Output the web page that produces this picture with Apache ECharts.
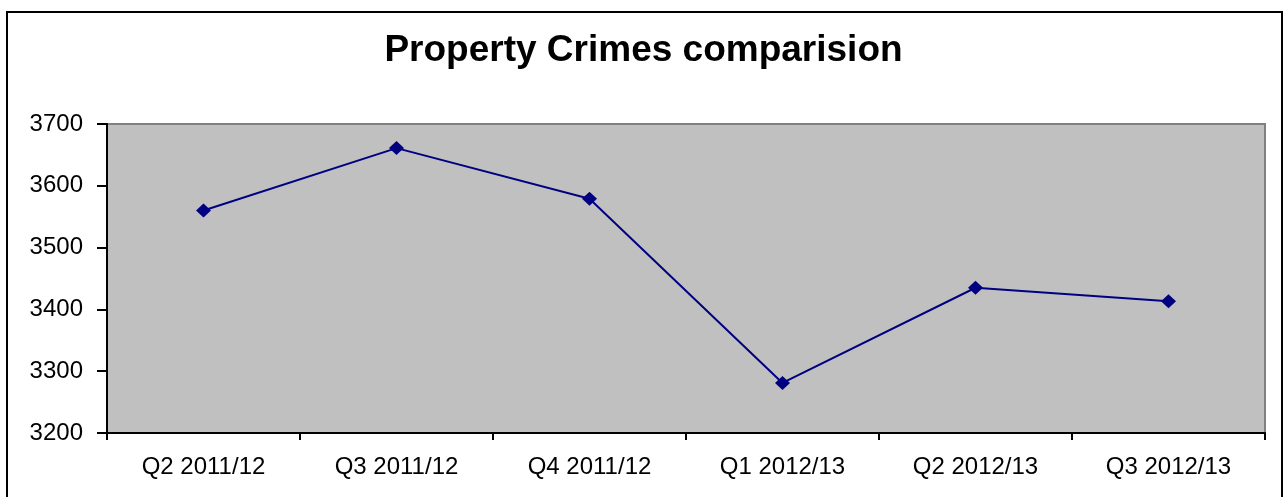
<!DOCTYPE html>
<html>
<head>
<meta charset="utf-8">
<script src="https://cdn.jsdelivr.net/npm/echarts@6/dist/echarts.min.js"></script>
<style>
  html, body { margin: 0; padding: 0; background: #fff; }
  #main { width: 1287px; height: 497px; }
</style>
</head>
<body>
<div id="main"></div>
<script>
var quarters = ['Q2 2011/12', 'Q3 2011/12', 'Q4 2011/12', 'Q1 2012/13', 'Q2 2012/13', 'Q3 2012/13'];
var crimes = [3560, 3661, 3579, 3281, 3435, 3413];
var yTicks = { min: 3200, max: 3700, step: 100 };

var myChart = echarts.init(document.getElementById('main'));
var option = {
    animation: false,
    backgroundColor: '#ffffff',
    textStyle: { fontFamily: 'Liberation Sans, Arial, sans-serif' },
    title: {
        text: 'Property Crimes comparision',
        left: 'center',
        top: 27,
        textStyle: { fontSize: 37, fontWeight: 'bold', color: '#000' }
    },
    graphic: [{
        type: 'rect',
        shape: { x: 7, y: 12, width: 1275, height: 520 },
        style: { fill: 'none', stroke: '#000', lineWidth: 2 },
        z: 100
    }],
    grid: {
        left: 107, right: 22, top: 124, bottom: 64,
        show: true,
        backgroundColor: '#c0c0c0',
        borderColor: '#808080',
        borderWidth: 2
    },
    xAxis: {
        type: 'category',
        data: quarters,
        boundaryGap: true,
        axisLine: { lineStyle: { color: '#000', width: 2 } },
        axisTick: { show: true, length: 7, lineStyle: { color: '#000', width: 2 } },
        axisLabel: { color: '#000', fontSize: 24, margin: 22 },
        splitLine: { show: false }
    },
    yAxis: {
        type: 'value',
        min: yTicks.min,
        max: yTicks.max,
        interval: yTicks.step,
        axisLine: { show: true, lineStyle: { color: '#000', width: 2 } },
        axisTick: { show: true, length: 10, lineStyle: { color: '#000', width: 2 } },
        axisLabel: { color: '#000', fontSize: 24, margin: 24, formatter: function (v) { return String(v); } },
        splitLine: { show: false }
    },
    series: [{
        type: 'line',
        data: crimes,
        symbol: 'path://M0,-1L1,0L0,1L-1,0Z',
        symbolSize: [15, 14],
        lineStyle: { color: '#000080', width: 2 },
        itemStyle: { color: '#000080' }
    }]
};
myChart.setOption(option);
</script>
</body>
</html>
